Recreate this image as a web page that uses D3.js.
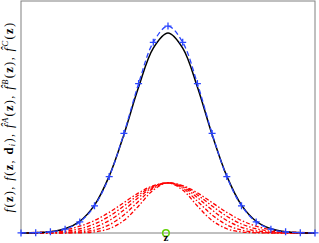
<!DOCTYPE html>
<html>
<head>
<meta charset="utf-8">
<script src="https://cdn.jsdelivr.net/npm/d3@7/dist/d3.min.js"></script>
<style>
  body { margin: 0; background: #fff; }
  svg { display: block; }
</style>
</head>
<body>
<script>
// sample points along z
var zs = [-5, -4.5, -4, -3.5, -3, -2.5, -2, -1.5, -1, -0.5, 0, 0.5, 1, 1.5, 2, 2.5, 3, 3.5, 4, 4.5, 5];

// f(z) - black solid
var fTrue = [0.0003, 0.0015, 0.0056, 0.0182, 0.0506, 0.120, 0.245, 0.424, 0.629, 0.797, 0.862,
             0.797, 0.629, 0.424, 0.245, 0.120, 0.0506, 0.0182, 0.0056, 0.0015, 0.0003];

// estimate - blue dashed with + markers
var fEst = [0.0003, 0.0012, 0.0049, 0.0166, 0.0478, 0.117, 0.243, 0.429, 0.644, 0.822, 0.892,
            0.822, 0.644, 0.429, 0.243, 0.117, 0.0478, 0.0166, 0.0049, 0.0012, 0.0003];

// f(z, d_i) - red dash-dot
var fd1 = [0, 0, 0, 0.0001, 0.0008, 0.0046, 0.0183, 0.0539, 0.1165, 0.185, 0.216,
           0.185, 0.1165, 0.0539, 0.0183, 0.0046, 0.0008, 0.0001, 0, 0, 0];
var fd2 = [0, 0, 0.0002, 0.0008, 0.0036, 0.0127, 0.0352, 0.0779, 0.137, 0.193, 0.216,
           0.193, 0.137, 0.0779, 0.0352, 0.0127, 0.0036, 0.0008, 0.0002, 0, 0];
var fd3 = [0, 0.0002, 0.0008, 0.0031, 0.0095, 0.0247, 0.0539, 0.0989, 0.153, 0.198, 0.216,
           0.198, 0.153, 0.0989, 0.0539, 0.0247, 0.0095, 0.0031, 0.0008, 0.0002, 0];
var fd4 = [0.0002, 0.0008, 0.0027, 0.0075, 0.0183, 0.0389, 0.0721, 0.1165, 0.164, 0.202, 0.216,
           0.202, 0.164, 0.1165, 0.0721, 0.0389, 0.0183, 0.0075, 0.0027, 0.0008, 0.0002];
var fd5 = [0.0008, 0.0024, 0.0062, 0.0142, 0.0292, 0.0539, 0.0888, 0.131, 0.173, 0.204, 0.216,
           0.204, 0.173, 0.131, 0.0888, 0.0539, 0.0292, 0.0142, 0.0062, 0.0024, 0.0008];
var redSeries = [fd1, fd2, fd3, fd4, fd5];

var zMark = -0.07;

var width = 319, height = 243;
var margin = { top: 1, right: 4, bottom: 10, left: 21 };

var svg = d3.select("body").append("svg")
    .attr("width", width)
    .attr("height", height);

var x = d3.scaleLinear()
    .domain([-5, 5])
    .range([margin.left, width - margin.right]);
var y = d3.scaleLinear()
    .domain([0, 1])
    .range([height - margin.bottom, margin.top]);

var line = d3.line()
    .x(function (d, i) { return x(zs[i]); })
    .y(function (d) { return y(d); })
    .curve(d3.curveCatmullRom);

// frame
svg.append("rect")
    .attr("x", x(-5))
    .attr("y", y(1))
    .attr("width", x(5) - x(-5))
    .attr("height", y(0) - y(1))
    .attr("fill", "none")
    .attr("stroke", "#808080")
    .attr("stroke-width", 1);

svg.selectAll("path.red")
    .data(redSeries)
    .enter()
    .append("path")
    .attr("class", "red")
    .attr("d", line)
    .attr("fill", "none")
    .attr("stroke", "#ff0000")
    .attr("stroke-width", 1.3)
    .attr("stroke-dasharray", "4,2,1.5,2");

svg.append("path")
    .attr("d", line(fTrue))
    .attr("fill", "none")
    .attr("stroke", "#000")
    .attr("stroke-width", 1.5);

svg.append("path")
    .attr("d", line(fEst))
    .attr("fill", "none")
    .attr("stroke", "#2a45ff")
    .attr("stroke-width", 1.3)
    .attr("stroke-dasharray", "5,3");

svg.selectAll("path.plus")
    .data(fEst)
    .enter()
    .append("path")
    .attr("class", "plus")
    .attr("d", function (d, i) {
        var cx = x(zs[i]), cy = y(d);
        return "M" + (cx - 3.5) + "," + cy + "H" + (cx + 3.5) + "M" + cx + "," + (cy - 3.5) + "V" + (cy + 3.5);
    })
    .attr("stroke", "#2a45ff")
    .attr("stroke-width", 1.3);

svg.append("circle")
    .attr("cx", x(zMark))
    .attr("cy", y(0))
    .attr("r", 3.3)
    .attr("fill", "none")
    .attr("stroke", "#5fd000")
    .attr("stroke-width", 1.5);

svg.append("text")
    .attr("x", x(zMark))
    .attr("y", 240.5)
    .attr("text-anchor", "middle")
    .style("font-family", "Liberation Serif, serif")
    .style("font-weight", "bold")
    .style("font-size", "11px")
    .text("z");

// y label
var ylab = svg.append("text")
    .attr("transform", "translate(12.5," + ((y(0) + y(1)) / 2) + ") rotate(-90)")
    .attr("text-anchor", "middle")
    .style("font-family", "Liberation Serif, serif")
    .style("font-size", "12.5px");

var parts = [
    ["f", "i"], ["(", ""], ["z", "b"], ["), ", ""],
    ["f", "i"], ["(", ""], ["z", "b"], [", ", ""], ["d", "b"], ["i", "sub"], ["), ", ""],
    ["f\u0302", "i"], ["A", "sup"], ["(", ""], ["z", "b"], ["), ", ""],
    ["f\u0302", "i"], ["B", "sup"], ["(", ""], ["z", "b"], ["), ", ""],
    ["f\u0302", "i"], ["C", "sup"], ["(", ""], ["z", "b"], [")", ""]
];
parts.forEach(function (p, i) {
    var t = ylab.append("tspan").text(p[0]);
    var prev = parts[i - 1];
    if (p[1] === "i") t.style("font-style", "italic");
    if (p[1] === "b") t.style("font-weight", "bold");
    if (p[1] === "sup") t.style("font-style", "italic").style("font-size", "8.5px").attr("dy", -4.5);
    if (p[1] === "sub") t.style("font-style", "italic").style("font-size", "8.5px").attr("dy", 2);
    if (prev && prev[1] === "sup") t.attr("dy", 4.5);
    if (prev && prev[1] === "sub") t.attr("dy", -2);
});

// stretch label to the length seen in the reference
var natural = ylab.node().getComputedTextLength();
var nChars = parts.map(function (p) { return p[0]; }).join("").length;
ylab.style("letter-spacing", Math.max(0, (195 - natural) / nChars) + "px");
</script>
</body>
</html>
